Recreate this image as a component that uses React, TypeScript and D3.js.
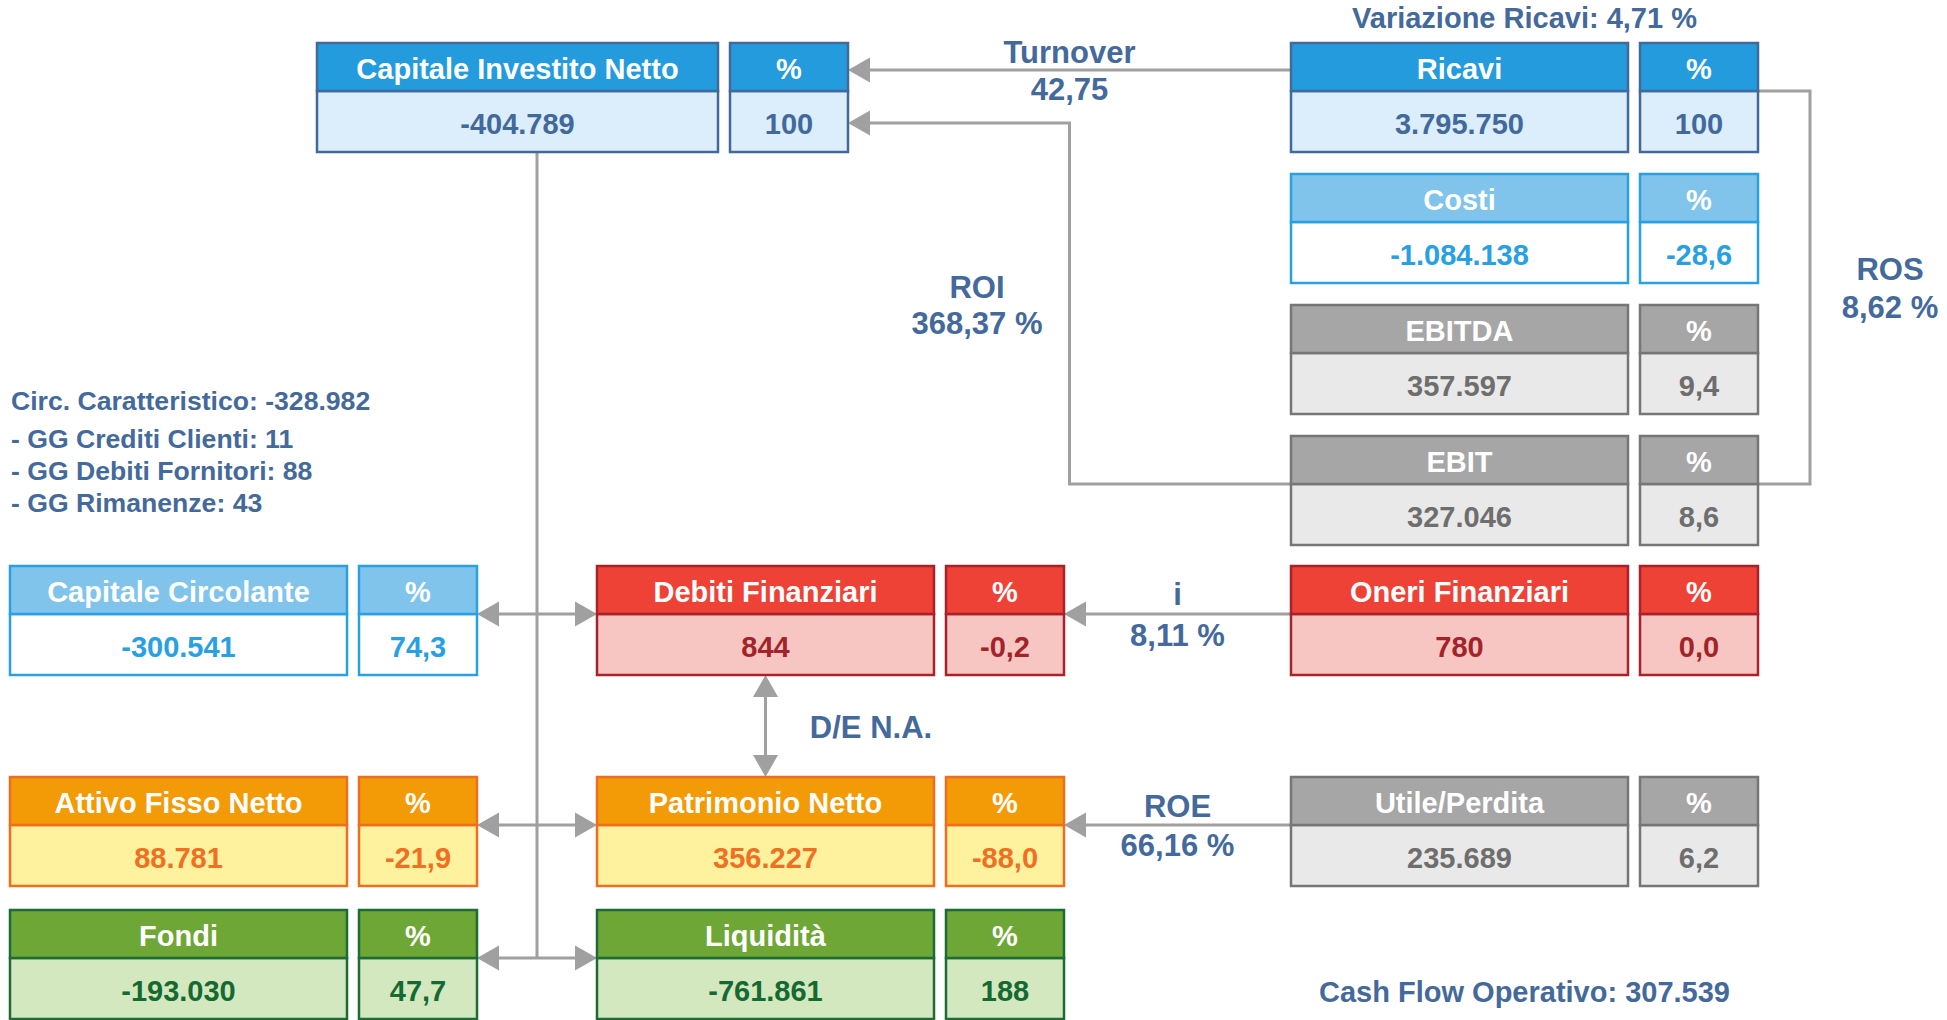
import React from "react";
import * as d3 from "d3";

// ---------------- DATA ----------------
const boxLabels = [
  "Capitale Investito Netto",
  "Ricavi",
  "Costi",
  "EBITDA",
  "EBIT",
  "Capitale Circolante",
  "Debiti Finanziari",
  "Oneri Finanziari",
  "Attivo Fisso Netto",
  "Patrimonio Netto",
  "Utile/Perdita",
  "Fondi",
  "Liquidità",
];
const boxValues = [
  -404789, 3795750, -1084138, 357597, 327046, -300541, 844, 780, 88781, 356227,
  235689, -193030, -761861,
];
const boxPercents = [100, 100, -28.6, 9.4, 8.6, 74.3, -0.2, 0.0, -21.9, -88.0, 6.2, 47.7, 188];

const ratioNames = ["Turnover", "ROI", "ROS", "i", "ROE"];
const ratioValues = [42.75, 368.37, 8.62, 8.11, 66.16];
const ratioIsPercent = [false, true, true, true, true];

const deLabel = "D/E N.A.";
const variazioneRicavi = 4.71;
const circCaratteristico = -328982;
const ggLabels = ["GG Crediti Clienti", "GG Debiti Fornitori", "GG Rimanenze"];
const ggValues = [11, 88, 43];
const cashFlowOperativo = 307539;

// ---------------- LAYOUT (slots) ----------------
const boxCols = ["C", "D", "D", "D", "D", "A", "B", "D", "A", "B", "D", "A", "B"];
const boxRows = [0, 0, 1, 2, 3, 4, 4, 4, 5, 5, 5, 6, 6];
const boxThemes = [
  "blue", "blue", "light", "gray", "gray", "light", "red", "red",
  "orange", "orange", "gray", "green", "green",
];

const W = 1947;
const H = 1020;
const HH = 48; // header height
const VH = 61; // value height
const GAP = 12;
const PW = 118;

const colX = d3.scaleOrdinal<string, number>().domain(["A", "C", "B", "D"]).range([10, 317, 597, 1291]);
const colW = d3.scaleOrdinal<string, number>().domain(["A", "C", "B", "D"]).range([337, 401, 337, 337]);
const rowTop = d3.scaleOrdinal<number, number>().domain([0, 1, 2, 3, 4, 5, 6]).range([43, 174, 305, 436, 566, 777, 910]);

type Theme = { head: string; border: string; fill: string; text: string };
const themes: Record<string, Theme> = {
  blue: { head: "#239BDD", border: "#42699B", fill: "#DCEDFC", text: "#42699B" },
  light: { head: "#80C4EC", border: "#28A0E1", fill: "#FFFFFF", text: "#28A0E1" },
  gray: { head: "#A6A6A6", border: "#767676", fill: "#E9E9E9", text: "#6E6E6E" },
  red: { head: "#EF4236", border: "#A6232B", fill: "#F8C6C2", text: "#A3232B" },
  orange: { head: "#F29B07", border: "#EF6D21", fill: "#FEF29E", text: "#F07023" },
  green: { head: "#6EA735", border: "#1D6B35", fill: "#D4E8C0", text: "#146A30" },
};

const FONT = "'Liberation Sans', Arial, Helvetica, sans-serif";
const LABEL = "#44699B";
const LINE = "#A0A0A0";

const it = d3.formatLocale({ decimal: ",", thousands: ".", grouping: [3], currency: ["", " €"], minus: "-" });
const fmtInt = it.format(",d");
const fmtPct = (v: number) => (Math.abs(v) >= 100 ? it.format(",d")(v) : it.format(",.1f")(v));
const fmt2 = it.format(",.2f");

// geometry helpers
const left = (i: number) => colX(boxCols[i]);
const right = (i: number) => colX(boxCols[i]) + colW(boxCols[i]);
const pctRight = (i: number) => right(i) + GAP + PW;
const top = (i: number) => rowTop(boxRows[i]);
const split = (i: number) => rowTop(boxRows[i]) + HH;
const bottom = (i: number) => rowTop(boxRows[i]) + HH + VH;

const AL = 22; // arrow length
const AH = 12.5; // arrow half width

function arrowHead(x: number, y: number, dir: "l" | "r" | "u" | "d") {
  const p =
    dir === "l"
      ? [[x, y], [x + AL, y - AH], [x + AL, y + AH]]
      : dir === "r"
      ? [[x, y], [x - AL, y - AH], [x - AL, y + AH]]
      : dir === "u"
      ? [[x, y], [x - AH, y + AL], [x + AH, y + AL]]
      : [[x, y], [x - AH, y - AL], [x + AH, y - AL]];
  return p.map((q) => q.join(",")).join(" ");
}

const line = d3.line<[number, number]>();

function Box({ i }: { i: number }) {
  const th = themes[boxThemes[i]];
  const x = left(i);
  const w = colW(boxCols[i]);
  const y = top(i);
  const cells = [
    { x, w, head: boxLabels[i], val: fmtInt(boxValues[i]) },
    { x: x + w + GAP, w: PW, head: "%", val: fmtPct(boxPercents[i]) },
  ];
  return (
    <g>
      {cells.map((c, k) => (
        <g key={k}>
          <rect x={c.x} y={y + HH} width={c.w} height={VH} fill={th.fill} stroke={th.border} strokeWidth={2.5} />
          <rect x={c.x} y={y} width={c.w} height={HH} fill={th.head} stroke={th.border} strokeWidth={2.5} />
          <text x={c.x + c.w / 2} y={y + 36} textAnchor="middle" fill="#FFFFFF" fontSize={29} fontWeight="bold" fontFamily={FONT}>
            {c.head}
          </text>
          <text x={c.x + c.w / 2} y={y + 91} textAnchor="middle" fill={th.text} fontSize={29} fontWeight="bold" fontFamily={FONT}>
            {c.val}
          </text>
        </g>
      ))}
    </g>
  );
}

export default function App() {
  const iCIN = 0, iRic = 1, iEbit = 4, iCC = 5, iDeb = 6, iOneri = 7, iAFN = 8, iPN = 9, iUtile = 10, iFondi = 11;

  const midCD = (pctRight(iCIN) + left(iRic)) / 2; // between capital % and ricavi
  const midBD = (pctRight(iDeb) + left(iOneri)) / 2;
  const trunkX = (pctRight(iCC) + left(iDeb)) / 2;
  const rosX = pctRight(iRic) + 52;
  const deX = (left(iDeb) + right(iDeb)) / 2;

  const turnY = top(iRic) + 27;
  const roiY = split(iCIN) + 32;

  const paths: [number, number][][] = [
    // Turnover
    [[left(iRic), turnY], [pctRight(iCIN) + AL, turnY]],
    // ROI
    [[left(iEbit), split(iEbit)], [midCD, split(iEbit)], [midCD, roiY], [pctRight(iCIN) + AL, roiY]],
    // ROS
    [[pctRight(iRic), split(iRic)], [rosX, split(iRic)], [rosX, split(iEbit)], [pctRight(iEbit), split(iEbit)]],
    // i
    [[left(iOneri), split(iOneri)], [pctRight(iDeb) + AL, split(iOneri)]],
    // ROE
    [[left(iUtile), split(iUtile)], [pctRight(iPN) + AL, split(iUtile)]],
    // D/E
    [[deX, bottom(iDeb) + AL], [deX, top(iPN) - AL]],
    // trunk
    [[trunkX, bottom(iCIN)], [trunkX, split(iFondi)]],
    // horizontal double arrows
    ...[iCC, iAFN, iFondi].map((k) => [[pctRight(k) + AL, split(k)], [left(k + 1) - AL, split(k)]] as [number, number][]),
  ];

  const heads: [number, number, "l" | "r" | "u" | "d"][] = [
    [pctRight(iCIN), turnY, "l"],
    [pctRight(iCIN), roiY, "l"],
    [pctRight(iDeb), split(iOneri), "l"],
    [pctRight(iPN), split(iUtile), "l"],
    [deX, bottom(iDeb), "u"],
    [deX, top(iPN), "d"],
    ...[iCC, iAFN, iFondi].flatMap((k) => [
      [pctRight(k), split(k), "l"] as [number, number, "l"],
      [left(k + 1), split(k), "r"] as [number, number, "r"],
    ]),
  ];

  const ratioPos: [number, number, number][] = [
    [midCD, 63, 100],
    [977, 298, 334],
    [1890, 280, 318],
    [midBD, 605, 646],
    [midBD, 817, 856],
  ];

  const txt = (props: any, s: string, size: number) => (
    <text fill={LABEL} fontSize={size} fontWeight="bold" fontFamily={FONT} {...props}>
      {s}
    </text>
  );

  return (
    <svg width={W} height={H} style={{ position: "absolute", left: 0, top: 0, display: "block", background: "#FFFFFF" }}>
      <rect x={0} y={0} width={W} height={H} fill="#FFFFFF" />
      {paths.map((p, k) => (
        <path key={k} d={line(p) || ""} fill="none" stroke={LINE} strokeWidth={3} />
      ))}
      {heads.map(([x, y, d], k) => (
        <polygon key={k} points={arrowHead(x, y, d)} fill={LINE} />
      ))}
      {boxLabels.map((_, i) => (
        <Box key={i} i={i} />
      ))}

      {ratioNames.map((n, k) => (
        <g key={n}>
          {txt({ x: ratioPos[k][0], y: ratioPos[k][1], textAnchor: "middle" }, n, 31)}
          {txt(
            { x: ratioPos[k][0], y: ratioPos[k][2], textAnchor: "middle" },
            fmt2(ratioValues[k]) + (ratioIsPercent[k] ? " %" : ""),
            31
          )}
        </g>
      ))}
      {txt({ x: 871, y: 738, textAnchor: "middle" }, deLabel, 31)}
      {txt(
        { x: (left(iRic) + pctRight(iRic)) / 2, y: 28, textAnchor: "middle" },
        `Variazione Ricavi: ${fmt2(variazioneRicavi)} %`,
        29
      )}
      {txt({ x: 11, y: 410 }, `Circ. Caratteristico: ${fmtInt(circCaratteristico)}`, 26.6)}
      {ggLabels.map((g, k) => (
        <React.Fragment key={g}>{txt({ x: 11, y: 448 + k * 32 }, `- ${g}: ${ggValues[k]}`, 26.6)}</React.Fragment>
      ))}
      {txt(
        { x: (left(iRic) + pctRight(iRic)) / 2, y: 1002, textAnchor: "middle" },
        `Cash Flow Operativo: ${fmtInt(cashFlowOperativo)}`,
        29
      )}
    </svg>
  );
}
